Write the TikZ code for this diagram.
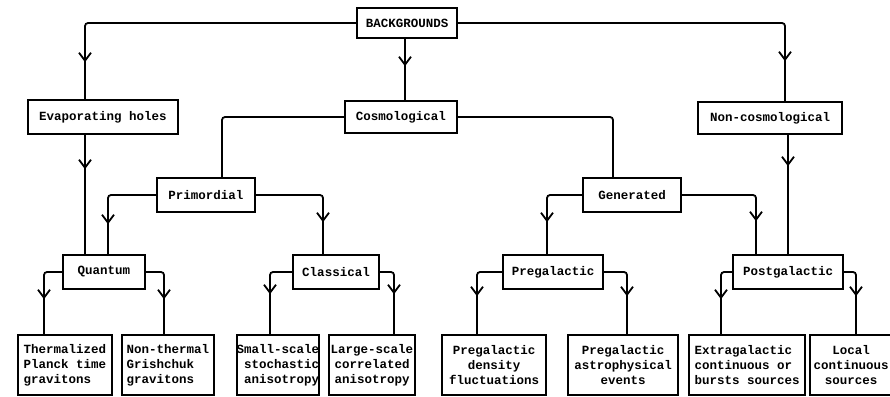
\documentclass[tikz,border=0pt]{standalone}
\usepackage{fontspec}
\newfontfamily\twfont{Liberation Mono}
\usetikzlibrary{arrows.meta, decorations.markings}

\begin{document}
\begin{tikzpicture}[x=1pt, y=-1pt, line width=2pt,
  box/.style={draw, line width=1.6pt, inner sep=0pt, font=\twfont\bfseries\fontsize{12.5}{15}\selectfont},
  leaf/.style={box, minimum height=60pt, align=center},
  link/.style={line width=1.8pt, rounded corners=3pt},
  arr/.style={link, postaction={decorate}, decoration={markings,
      mark=at position #1 with {\arrow{Straight Barb[length=8pt, width=12pt]}}}}]
\clip (0,0) rectangle (890,396);
% top level
\node[box, minimum width=100pt, minimum height=30pt] (bg) at (407,23) {BACKGROUNDS};
\node[box, minimum width=150pt, minimum height=34pt] (evap) at (103,117) {Evaporating holes};
\node[box, minimum width=112pt, minimum height=32pt] (cosmo) at (401,117) {Cosmological};
\node[box, minimum width=144pt, minimum height=32pt] (noncosmo) at (770,118) {Non-cosmological};
% second level
\node[box, minimum width=98pt, minimum height=34pt] (prim) at (206,195) {Primordial};
\node[box, minimum width=98pt, minimum height=34pt] (gen) at (632,195) {Generated};
\node[box, minimum width=82pt, minimum height=34pt] (quantum) at (104,272) {Quantum};
\node[box, minimum width=86pt, minimum height=34pt] (classical) at (336,272) {Classical};
\node[box, minimum width=100pt, minimum height=34pt] (pregal) at (553,272) {Pregalactic};
\node[box, minimum width=110pt, minimum height=34pt] (postgal) at (788,272) {Postgalactic};
% leaves
\node[leaf, minimum width=94pt, align=left] (thermal) at (65,365) {Thermalized\\Planck time\\gravitons};
\node[leaf, minimum width=92pt, align=left] (nonthermal) at (168,365) {Non-thermal\\Grishchuk\\gravitons};
\node[leaf, minimum width=82pt, align=right] (small) at (278,365) {Small-scale\\stochastic\\anisotropy};
\node[leaf, minimum width=86pt] (large) at (372,365) {Large-scale\\correlated\\anisotropy};
\node[leaf, minimum width=104pt] (density) at (494,365) {Pregalactic\\density\\fluctuations};
\node[leaf, minimum width=110pt] (astro) at (623,365) {Pregalactic\\astrophysical\\events};
\node[leaf, minimum width=116pt, align=left] (extra) at (747,365) {Extragalactic\\continuous or\\bursts sources};
\node[leaf, minimum width=82pt] (local) at (851,365) {Local\\continuous\\sources};

% connectors
\draw[arr=-37pt] (bg.west) -| ([xshift=-18pt]evap.north);
\draw[arr=-34pt] ([xshift=-2pt]bg.south) -- ([xshift=-2pt]bg.south |- cosmo.north);
\draw[arr=-40pt] (bg.east) -| ([xshift=15pt]noncosmo.north);
\draw[arr=-85pt] ([xshift=-18pt]evap.south) -- ([xshift=-18pt]evap.south |- quantum.north);
\draw[arr=-88pt] ([xshift=18pt]noncosmo.south) -- ([xshift=18pt]noncosmo.south |- postgal.north);
\draw[link] (cosmo.west) -| ([xshift=16pt]prim.north);
\draw[link] (cosmo.east) -| ([xshift=-19pt]gen.north);
\draw[arr=-30pt] (prim.west) -| ([xshift=4pt]quantum.north);
\draw[arr=-32pt] (prim.east) -| ([xshift=-13pt]classical.north);
\draw[arr=-32pt] (gen.west) -| ([xshift=-6pt]pregal.north);
\draw[arr=-33pt] (gen.east) -| ([xshift=-32pt]postgal.north);
\draw[arr=-35pt] (quantum.west) -| ([xshift=-21pt]thermal.north);
\draw[arr=-35pt] (quantum.east) -| ([xshift=-4pt]nonthermal.north);
\draw[arr=-40pt] (classical.west) -| ([xshift=-8pt]small.north);
\draw[arr=-40pt] (classical.east) -| ([xshift=22pt]large.north);
\draw[arr=-38pt] (pregal.west) -| ([xshift=-17pt]density.north);
\draw[arr=-38pt] (pregal.east) -| ([xshift=4pt]astro.north);
\draw[arr=-35pt] (postgal.west) -| ([xshift=-26pt]extra.north);
\draw[arr=-38pt] (postgal.east) -| ([xshift=5pt]local.north);
\end{tikzpicture}
\end{document}
